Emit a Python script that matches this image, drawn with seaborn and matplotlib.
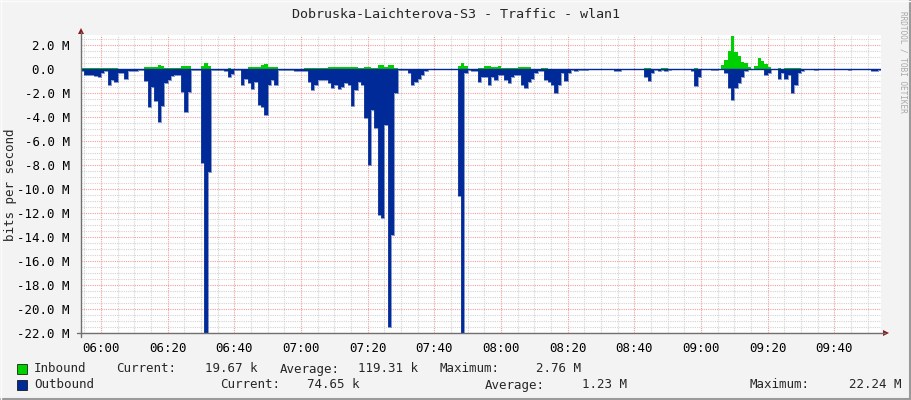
import numpy as np
import pandas as pd
import matplotlib
matplotlib.use('Agg')
import matplotlib.pyplot as plt
import seaborn as sns
from matplotlib.patches import Rectangle, Polygon
from matplotlib.lines import Line2D

# one sample per minute, first sample at 05:54 (minutes relative to 06:00)
start_minute = -6

# inbound traffic, Mbit/s (drawn above zero)
inbound = [
    0.05, 0.05, 0.1, 0.1, 0.05, 0.1, 0.05, 0.05, 0.1, 0.05,
    0.1, 0.03, 0.03, 0.03, 0.03, 0.03, 0.03, 0.03, 0.03, 0.2,
    0.2, 0.2, 0.2, 0.35, 0.25, 0.05, 0.05, 0.05, 0.05, 0.05,
    0.25, 0.25, 0.25, 0.03, 0.03, 0.03, 0.25, 0.47, 0.25, 0.03,
    0.03, 0.03, 0.03, 0.03, 0.1, 0.03, 0.03, 0.03, 0.03, 0.03,
    0.15, 0.15, 0.15, 0.15, 0.33, 0.42, 0.15, 0.15, 0.15, 0.03,
    0.03, 0.03, 0.03, 0.03, 0.03, 0.03, 0.03, 0.12, 0.12, 0.12,
    0.12, 0.12, 0.12, 0.12, 0.2, 0.2, 0.2, 0.15, 0.15, 0.15,
    0.15, 0.15, 0.15, 0.05, 0.05, 0.15, 0.15, 0.1, 0.1, 0.33,
    0.33, 0.15, 0.33, 0.33, 0.1, 0.02, 0.02, 0.02, 0.02, 0.02,
    0.02, 0.02, 0.02, 0.02, 0.02, 0.02, 0.02, 0.02, 0.02, 0.02,
    0.02, 0.02, 0.02, 0.25, 0.47, 0.25, 0.03, 0.03, 0.03, 0.1,
    0.1, 0.25, 0.25, 0.15, 0.15, 0.25, 0.12, 0.12, 0.12, 0.12,
    0.12, 0.15, 0.15, 0.15, 0.15, 0.03, 0.03, 0.03, 0.1, 0.1,
    0.02, 0.02, 0.02, 0.02, 0.02, 0.02, 0.02, 0.02, 0.02, 0.02,
    0.02, 0.02, 0.02, 0.02, 0.02, 0.02, 0.02, 0.02, 0.02, 0.02,
    0.02, 0.02, 0.02, 0.02, 0.02, 0.02, 0.02, 0.02, 0.02, 0.1,
    0.1, 0.02, 0.02, 0.02, 0.1, 0.1, 0.02, 0.02, 0.02, 0.02,
    0.02, 0.02, 0.02, 0.02, 0.1, 0.02, 0.02, 0.02, 0.02, 0.02,
    0.02, 0.02, 0.33, 0.75, 1.5, 2.76, 1.45, 1.1, 0.6, 0.5,
    0.15, 0.02, 0.25, 0.95, 0.65, 0.4, 0.15, 0.02, 0.02, 0.1,
    0.02, 0.12, 0.12, 0.12, 0.12, 0.12, 0.02, 0.02, 0.02, 0.02,
    0.02, 0.02, 0.02, 0.02, 0.02, 0.02, 0.02, 0.02, 0.02, 0.02,
    0.02, 0.02, 0.02, 0.02, 0.02, 0.02, 0.02, 0.02, 0.02, 0.0197,
]

# outbound traffic, Mbit/s (drawn below zero)
outbound = [
    0.2, 0.5, 0.5, 0.5, 0.6, 0.7, 0.35, 0.2, 1.3, 0.9,
    1.05, 0.3, 0.3, 0.8, 0.15, 0.15, 0.15, 0.1, 0.05, 1.0,
    3.2, 1.5, 2.7, 4.4, 3.1, 1.2, 0.9, 0.6, 0.5, 0.5,
    1.9, 3.6, 1.9, 0.1, 0.1, 0.1, 7.8, 22.2, 8.6, 0.1,
    0.1, 0.1, 0.1, 0.2, 0.7, 0.4, 0.1, 0.1, 1.3, 0.85,
    1.2, 1.7, 1.05, 3.0, 3.2, 3.8, 1.3, 0.9, 1.3, 0.1,
    0.1, 0.1, 0.1, 0.1, 0.15, 0.15, 0.2, 0.2, 1.1, 1.75,
    1.3, 0.9, 0.9, 0.9, 1.2, 1.6, 1.3, 1.7, 1.5, 1.2,
    1.3, 3.1, 1.75, 1.05, 1.3, 4.1, 8.0, 3.4, 4.9, 12.2,
    12.4, 4.7, 21.5, 13.8, 2.0, 0.05, 0.05, 0.05, 0.35, 1.3,
    1.05, 0.8, 0.5, 0.2, 0.02, 0.02, 0.02, 0.02, 0.02, 0.02,
    0.02, 0.02, 0.02, 10.6, 22.24, 0.3, 0.1, 0.2, 0.2, 1.1,
    0.7, 0.65, 1.3, 0.65, 0.9, 0.5, 0.5, 0.9, 1.2, 0.65,
    0.5, 0.5, 1.3, 1.6, 1.05, 0.8, 0.35, 0.15, 0.15, 0.9,
    1.05, 1.3, 2.0, 1.3, 0.35, 1.0, 0.3, 0.1, 0.2, 0.1,
    0.1, 0.1, 0.02, 0.02, 0.02, 0.02, 0.02, 0.02, 0.02, 0.02,
    0.15, 0.15, 0.02, 0.02, 0.02, 0.02, 0.02, 0.02, 0.02, 0.65,
    1.0, 0.35, 0.1, 0.2, 0.1, 0.2, 0.1, 0.02, 0.02, 0.02,
    0.02, 0.02, 0.02, 0.2, 1.4, 0.65, 0.02, 0.02, 0.02, 0.1,
    0.1, 0.02, 0.02, 0.35, 1.6, 2.6, 1.6, 1.2, 0.7, 0.2,
    0.02, 0.02, 0.02, 0.02, 0.02, 0.5, 0.3, 0.02, 0.02, 0.85,
    0.35, 0.85, 0.5, 2.0, 1.3, 0.35, 0.15, 0.02, 0.02, 0.02,
    0.1, 0.02, 0.02, 0.02, 0.02, 0.02, 0.02, 0.02, 0.02, 0.02,
    0.1, 0.02, 0.02, 0.02, 0.02, 0.02, 0.02, 0.15, 0.15, 0.075,
]

title = 'Dobruska-Laichterova-S3 - Traffic - wlan1'
y_title = 'bits per second'
watermark = 'RRDTOOL / TOBI OETIKER'

x_ticks = [0, 20, 40, 60, 80, 100, 120, 140, 160, 180, 200, 220]
x_labels = ['06:00', '06:20', '06:40', '07:00', '07:20', '07:40',
            '08:00', '08:20', '08:40', '09:00', '09:20', '09:40']
y_ticks = [2, 0, -2, -4, -6, -8, -10, -12, -14, -16, -18, -20, -22]
y_labels = ['2.0 M', '0.0  ', '-2.0 M', '-4.0 M', '-6.0 M', '-8.0 M', '-10.0 M',
            '-12.0 M', '-14.0 M', '-16.0 M', '-18.0 M', '-20.0 M', '-22.0 M']

legend_in = ['Inbound', 'Current:', '19.67 k', 'Average:', '119.31 k', 'Maximum:', '2.76 M']
legend_out = ['Outbound', 'Current:', '74.65 k', 'Average:', '1.23 M', 'Maximum:', '22.24 M']

green = '#00CF00'
blue = '#002A97'
W, H = 911, 400

sns.set_style('white')
plt.rcParams['font.family'] = ['DejaVu Sans Mono']
mono = 9.0


def fx(x):
    return x / W


def fy(y):
    return 1 - y / H


df = pd.DataFrame({'minute': start_minute + np.arange(len(inbound)),
                   'inbound': inbound,
                   'outbound': outbound})
edges = np.append(df['minute'].values, df['minute'].values[-1] + 1)
in_vals = np.append(df['inbound'].values, df['inbound'].values[-1])
out_vals = -np.append(df['outbound'].values, df['outbound'].values[-1])

fig = plt.figure(figsize=(W / 100, H / 100), dpi=100, facecolor='#F3F3F3')
ax = fig.add_axes([fx(81), fy(333), fx(800), 298 / H])
ax.set_facecolor('white')

# grid (below the data)
for m in range(-5, 235, 5):
    if m % 20 != 0:
        ax.axvline(m, color='#D4D4D4', lw=0.8, ls=(0, (1, 1)), zorder=0)
for v in np.arange(-22, 3, 0.5):
    if v % 2 != 0:
        ax.axhline(v, color='#D4D4D4', lw=0.8, ls=(0, (1, 1)), zorder=0)
for m in x_ticks:
    ax.axvline(m, color='#F0A0A0', lw=0.8, ls=(0, (1, 1)), zorder=1)
for v in y_ticks:
    ax.axhline(v, color='#F0A0A0', lw=0.8, ls=(0, (1, 1)), zorder=1)

ax.fill_between(edges, in_vals, step='post', color=green, lw=0, zorder=2)
ax.fill_between(edges, out_vals, step='post', color=blue, lw=0, zorder=3)
sns.lineplot(x=edges, y=out_vals, drawstyle='steps-post', color='#2A4AA8',
             lw=0.4, ax=ax, zorder=3)
ax.axhline(0, color=blue, lw=1.0, zorder=4)

ax.set_xlim(start_minute, start_minute + len(inbound))
ax.set_ylim(-22, 34 / 12)
for s in ax.spines.values():
    s.set_visible(False)

ax.set_xticks(x_ticks)
ax.set_xticklabels(x_labels, fontsize=mono, color='#000000')
ax.set_yticks(y_ticks)
ax.set_yticklabels(y_labels, fontsize=mono, color='#000000')
ax.tick_params(axis='x', length=3, width=0.8, color='#E08080', pad=3.5, direction='out')
ax.tick_params(axis='y', length=3, width=0.8, color='#E08080', pad=5, direction='out')

# axis lines with arrows, rrdtool style
fig.add_artist(Line2D([fx(81), fx(81)], [fy(32), fy(337)], color='#707070', lw=1.0))
fig.add_artist(Line2D([fx(77), fx(885)], [fy(333), fy(333)], color='#707070', lw=1.0))
fig.add_artist(Polygon([[fx(78), fy(34)], [fx(84), fy(34)], [fx(81), fy(28)]],
                       closed=True, color='#8B1A1A', lw=0))
fig.add_artist(Polygon([[fx(883), fy(330)], [fx(883), fy(336)], [fx(889), fy(333)]],
                       closed=True, color='#8B1A1A', lw=0))

fig.text(fx(456), fy(14), title, ha='center', va='center', fontsize=9.6)
fig.text(fx(11), fy(185), y_title, ha='center', va='center', rotation=90, fontsize=mono)
fig.text(fx(903), fy(62), watermark, ha='center', va='center', rotation=270,
         fontsize=5.6, color='#A8A8A8')

# legend
fig.add_artist(Rectangle((fx(17), fy(374)), fx(10), 10 / H, facecolor=green,
                         edgecolor='#000000', lw=0.5))
fig.add_artist(Rectangle((fx(17), fy(390)), fx(10), 10 / H, facecolor=blue,
                         edgecolor='#000000', lw=0.5))
x_in = [34, 116, 205, 280, 358, 440, 536]
x_out = [34, 220, 307, 485, 582, 750, 849]
for txt, x in zip(legend_in, x_in):
    fig.text(fx(x), fy(369), txt, ha='left', va='center', fontsize=mono)
for txt, x in zip(legend_out, x_out):
    fig.text(fx(x), fy(385), txt, ha='left', va='center', fontsize=mono)

# frame
fig.add_artist(Line2D([fx(0.5), fx(910.5)], [fy(398.5), fy(398.5)], color='#9A9A9A', lw=1.5))
fig.add_artist(Line2D([fx(909.5), fx(909.5)], [fy(0), fy(399)], color='#9A9A9A', lw=1.5))
fig.add_artist(Line2D([fx(0), fx(910)], [fy(0.5), fy(0.5)], color='#FCFCFC', lw=1.0))
fig.add_artist(Line2D([fx(0.5), fx(0.5)], [fy(0), fy(399)], color='#FCFCFC', lw=1.0))

fig.savefig('out.png', dpi=100, facecolor=fig.get_facecolor())
